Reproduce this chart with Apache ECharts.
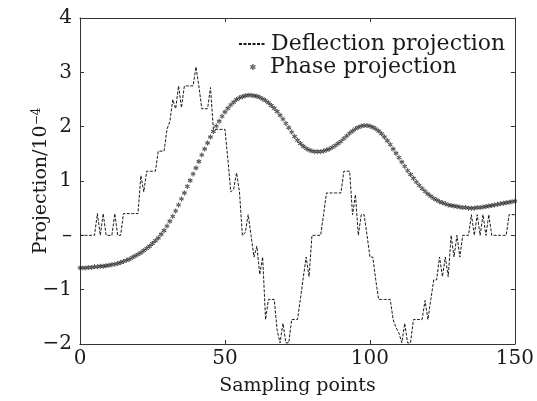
<!DOCTYPE html>
<html><head><meta charset="utf-8">
<script src="https://cdn.jsdelivr.net/npm/echarts@6/dist/echarts.min.js"></script>
<style>html,body{margin:0;padding:0;background:#fff}#c{width:537px;height:401px}</style>
</head><body><div id="c"></div>
<script>
const xTicks = [0, 50, 100, 150];
const yTicks = [-2, -1, 0, 1, 2, 3, 4];
const yTickLabels = ['−2', '−1', '–', '1', '2', '3', '4'];
const seriesNames = ['Deflection projection', 'Phase projection'];

const deflection = [
0,0,0,0,0,0,0.4,0,0.4,0,
0,0,0.4,0,0,0.4,0.4,0.4,0.4,0.4,
0.4,1.1,0.8,1.18,1.18,1.18,1.18,1.55,1.55,1.55,
1.95,2.1,2.5,2.33,2.75,2.35,2.75,2.75,2.75,2.75,
3.1,2.75,2.33,2.33,2.33,2.72,1.95,1.95,1.95,1.95,
1.95,1.4,0.8,0.85,1.15,0.8,0,0.05,0.38,0,
-0.4,-0.2,-0.72,-0.4,-1.55,-1.18,-1.18,-1.18,-1.75,-1.98,
-1.62,-1.98,-1.98,-1.55,-1.55,-1.55,-1.18,-0.78,-0.4,-0.76,
0,0,0,0,0.38,0.78,0.78,0.78,0.78,0.78,
0.78,1.18,1.18,1.18,0.38,0.75,0,0.38,0.38,0,
-0.4,-0.4,-0.82,-1.18,-1.18,-1.18,-1.18,-1.18,-1.55,-1.7,
-1.8,-1.98,-1.62,-1.98,-1.98,-1.55,-1.55,-1.55,-1.55,-1.2,
-1.55,-1.18,-0.82,-0.82,-0.4,-0.76,-0.4,-0.76,0,-0.4,
0,-0.4,0,0,0,0.38,0,0.38,0,0.38,
0,0.38,0,0,0,0,0,0,0.38,0.38,
0.38
];

const phase = [
-0.60,-0.60,-0.60,-0.59,-0.59,-0.58,-0.58,-0.57,-0.57,-0.56,
-0.55,-0.54,-0.53,-0.52,-0.50,-0.48,-0.46,-0.44,-0.41,-0.38,
-0.35,-0.32,-0.28,-0.24,-0.20,-0.15,-0.10,-0.05,0.02,0.09,
0.17,0.26,0.35,0.45,0.56,0.67,0.78,0.90,1.01,1.13,
1.24,1.36,1.48,1.59,1.70,1.81,1.91,2.01,2.10,2.19,
2.27,2.34,2.40,2.45,2.50,2.53,2.55,2.57,2.58,2.58,
2.57,2.56,2.54,2.51,2.48,2.44,2.39,2.34,2.28,2.21,
2.14,2.06,1.98,1.90,1.82,1.75,1.69,1.64,1.60,1.57,
1.55,1.54,1.54,1.54,1.55,1.57,1.59,1.62,1.65,1.69,
1.73,1.78,1.83,1.88,1.92,1.96,1.99,2.01,2.02,2.02,
2.01,1.99,1.96,1.92,1.87,1.81,1.74,1.67,1.59,1.51,
1.43,1.35,1.27,1.19,1.12,1.05,0.98,0.92,0.86,0.81,
0.76,0.72,0.68,0.65,0.62,0.60,0.58,0.56,0.55,0.54,
0.53,0.52,0.51,0.51,0.50,0.50,0.50,0.51,0.51,0.52,
0.53,0.54,0.55,0.56,0.57,0.58,0.59,0.60,0.61,0.62,
0.63
];

const toPairs = arr => arr.map((v, i) => [i, v]);
const FONT = 'DejaVu Serif';
const INK = '#1a1a1a';
const star = 'path://M4 0H6V10H4Z M0.17 3.37L8.83 8.37L9.83 6.63L1.17 1.63Z M1.17 8.37L9.83 3.37L8.83 1.63L0.17 6.63Z';

const axisLine = {show: true, onZero: false, lineStyle: {color: '#333', width: 1}};
const tick = {show: true, inside: true, length: 4, lineStyle: {color: '#333'}};

const chart = echarts.init(document.getElementById('c'), null, {renderer: 'canvas'});
chart.setOption({
  animation: false,
  backgroundColor: '#fff',
  grid: {left: 80, right: 21, top: 18, bottom: 53, containLabel: false},
  legend: [
    {data: [seriesNames[0]], orient: 'vertical', left: 238, top: 33, padding: 0, itemWidth: 27, itemHeight: 10,
     itemStyle: {opacity: 0},
     textStyle: {fontFamily: FONT, fontSize: 22, color: INK}},
    {data: [seriesNames[1]], orient: 'vertical', left: 250, top: 56, padding: 0, itemWidth: 6, itemHeight: 6,
     textStyle: {fontFamily: FONT, fontSize: 22, color: INK, padding: [0, 0, 0, 9]}}
  ],
  xAxis: [
    {type: 'value', min: xTicks[0], max: xTicks[xTicks.length - 1], interval: 50, position: 'bottom',
     name: 'Sampling points', nameLocation: 'middle', nameGap: 33, nameMoveOverlap: false,
     nameTextStyle: {fontFamily: FONT, fontSize: 19, color: INK},
     axisLine, axisTick: tick, splitLine: {show: false},
     axisLabel: {fontFamily: FONT, fontSize: 20, color: INK, margin: 5}},
    {type: 'value', min: xTicks[0], max: xTicks[xTicks.length - 1], interval: 50, position: 'top',
     axisLine, axisTick: tick, splitLine: {show: false}, axisLabel: {show: false}}
  ],
  yAxis: [
    {type: 'value', min: yTicks[0], max: yTicks[yTicks.length - 1], interval: 1, position: 'left',
     name: 'Projection/10{sup|−4}', nameLocation: 'middle', nameGap: 29, nameRotate: 90, nameMoveOverlap: false,
     nameTextStyle: {fontFamily: FONT, fontSize: 19, color: INK,
       rich: {sup: {fontFamily: FONT, fontSize: 12, color: INK, verticalAlign: 'top', padding: [0, 0, 8, 0]}}},
     axisLine, axisTick: tick, splitLine: {show: false},
     axisLabel: {fontFamily: FONT, fontSize: 20, color: INK, margin: 8,
       formatter: v => yTickLabels[yTicks.indexOf(v)]}},
    {type: 'value', min: yTicks[0], max: yTicks[yTicks.length - 1], interval: 1, position: 'right',
     axisLine, axisTick: tick, splitLine: {show: false}, axisLabel: {show: false}}
  ],
  series: [
    {name: seriesNames[0], type: 'line', data: toPairs(deflection), symbol: 'none',
     lineStyle: {color: INK, width: 1, type: [3, 1.5]}, itemStyle: {color: INK}, z: 2},
    {name: seriesNames[1], type: 'scatter', data: toPairs(phase), symbol: star, symbolSize: 5,
     itemStyle: {color: INK}, z: 3}
  ]
});
</script></body></html>
